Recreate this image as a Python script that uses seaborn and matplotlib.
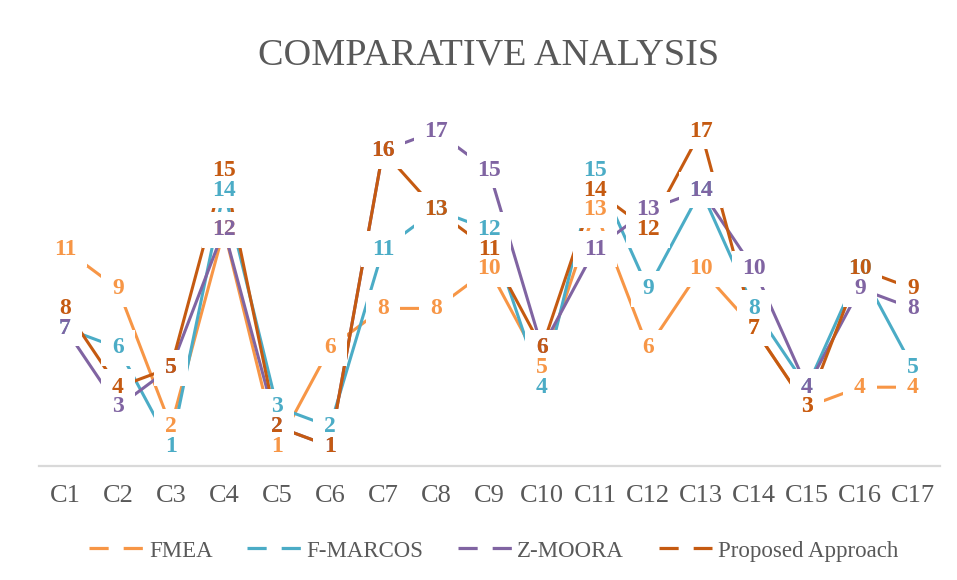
import matplotlib
matplotlib.use("Agg")
import matplotlib.pyplot as plt
from matplotlib.lines import Line2D
import seaborn as sns
import pandas as pd

categories = ["C1", "C2", "C3", "C4", "C5", "C6", "C7", "C8", "C9", "C10",
              "C11", "C12", "C13", "C14", "C15", "C16", "C17"]
fmea = [11, 9, 2, 12, 1, 6, 8, 8, 10, 5, 13, 6, 10, 7, 3, 4, 4]
f_marcos = [7, 6, 1, 14, 3, 2, 11, 13, 12, 4, 15, 9, 14, 8, 4, 10, 5]
z_moora = [7, 3, 5, 12, 2, 1, 16, 17, 15, 6, 11, 13, 14, 10, 4, 9, 8]
proposed = [8, 4, 5, 15, 2, 1, 16, 13, 11, 6, 14, 12, 17, 7, 3, 10, 9]

series_names = ["FMEA", "F-MARCOS", "Z-MOORA", "Proposed Approach"]
series_values = [fmea, f_marcos, z_moora, proposed]
colors = ["#F79646", "#4BACC6", "#8064A2", "#C55A11"]

rows = []
for name, vals in zip(series_names, series_values):
    for i, v in enumerate(vals):
        rows.append({"pos": i, "category": categories[i], "method": name, "rank": v})
df = pd.DataFrame(rows)

sns.set_theme(style="white")
plt.rcParams["font.family"] = ["Liberation Serif", "DejaVu Serif"]

fig = plt.figure(figsize=(9.57, 5.8), dpi=100)
ax = fig.add_axes([38.5 / 957, 114 / 580, 901 / 957, 394 / 580])

palette = dict(zip(series_names, colors))
sns.lineplot(data=df, x="pos", y="rank", hue="method", hue_order=series_names,
             palette=palette, linewidth=2.2, sort=False, legend=False,
             estimator=None, ax=ax, zorder=2)
for ln in ax.get_lines():
    ln.set_solid_capstyle("butt")

# white label backgrounds: a rectangle per value, wider for two-digit values,
# so each data label punches a gap in the lines running through it
one_digit = [(-17, -18), (17, -18), (17, 18), (-17, 18), (-17, -18)]
two_digit = [(-22, -18), (22, -18), (22, 18), (-22, 18), (-22, -18)]
for vals in series_values:
    xs1 = [i for i, v in enumerate(vals) if v < 10]
    ys1 = [v for v in vals if v < 10]
    xs2 = [i for i, v in enumerate(vals) if v >= 10]
    ys2 = [v for v in vals if v >= 10]
    ax.plot(xs1, ys1, linestyle="none", marker=one_digit, markersize=25.9,
            markerfacecolor="white", markeredgewidth=0, zorder=3)
    ax.plot(xs2, ys2, linestyle="none", marker=two_digit, markersize=31.7,
            markerfacecolor="white", markeredgewidth=0, zorder=3)

# value labels on top, in series order
for vals, col in zip(series_values, colors):
    for i, v in enumerate(vals):
        ax.text(i, v, str(v), ha="center", va="center", color=col,
                fontsize=17, fontweight="bold", zorder=5)

ax.set_xlim(-0.5, len(categories) - 0.5)
ax.set_ylim(0, 20)
ax.set_xticks(range(len(categories)))
ax.set_xticklabels(categories, fontsize=19, color="#595959")
ax.tick_params(axis="x", length=0, pad=14)
ax.set_yticks([])
ax.set_xlabel("")
ax.set_ylabel("")
for side in ["top", "right", "left"]:
    ax.spines[side].set_visible(False)
ax.spines["bottom"].set_color("#D9D9D9")
ax.spines["bottom"].set_linewidth(1.6)
ax.spines["bottom"].set_zorder(1)

fig.text(489 / 957, 1 - 55 / 580, "COMPARATIVE ANALYSIS", ha="center", va="center",
         fontsize=27.5, color="#595959")

handles = [Line2D([0], [0], color=c, linewidth=2.3, dashes=(6, 4.7),
                  dash_capstyle="butt") for c in colors]
fig.legend(handles, series_names, loc="center", bbox_to_anchor=(494 / 957, 1 - 551 / 580),
           ncol=4, frameon=False, fontsize=16.5, handlelength=2.35,
           handletextpad=0.25, columnspacing=1.5, labelcolor="#595959")

fig.savefig("out.png", dpi=100, facecolor="white")
